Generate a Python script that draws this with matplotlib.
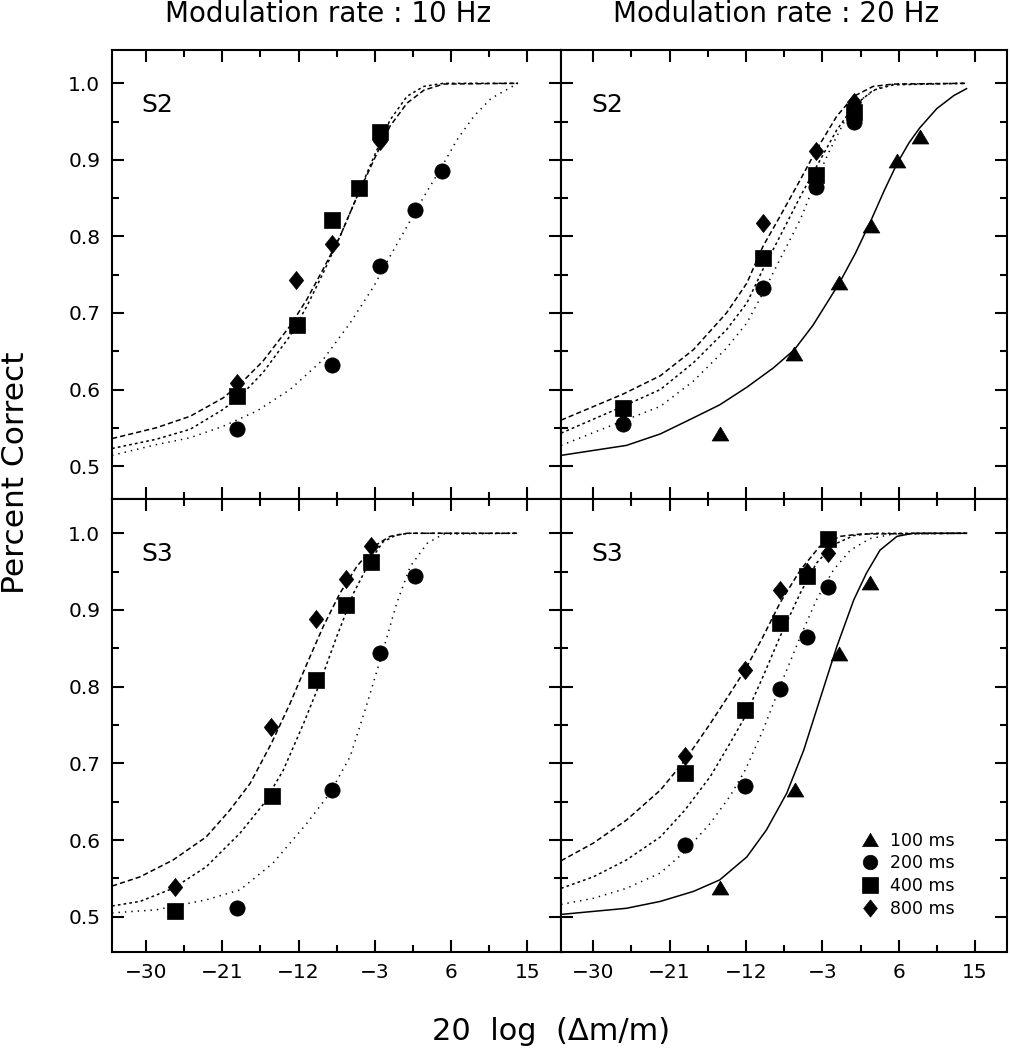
import matplotlib
matplotlib.use('Agg')
import matplotlib.pyplot as plt
from matplotlib.lines import Line2D
from matplotlib.path import Path
from matplotlib.ticker import FixedLocator, FormatStrFormatter


# axis ticks
x_ticks = [-30, -21, -12, -3, 6, 15]
x_minor = [-25.5, -16.5, -7.5, 1.5, 10.5]
y_ticks = [0.5, 0.6, 0.7, 0.8, 0.9, 1.0]
y_minor = [0.55, 0.65, 0.75, 0.85, 0.95]
durations = [100, 200, 400, 800]
duration_labels = ['100 ms', '200 ms', '400 ms', '800 ms']
col_titles = ['Modulation rate : 10 Hz', 'Modulation rate : 20 Hz']

# ---- S2, 10 Hz: measured points
s2_10_x_200 = [-19.2, -8.0, -2.4, 1.7, 4.9]
s2_10_pc_200 = [0.549, 0.632, 0.762, 0.834, 0.885]
s2_10_x_400 = [-19.3, -12.2, -8.1, -4.9, -2.4]
s2_10_pc_400 = [0.591, 0.684, 0.822, 0.863, 0.936]
s2_10_x_800 = [-19.3, -12.3, -8.1, -2.4]
s2_10_pc_800 = [0.609, 0.743, 0.790, 0.924]
# fitted curves
s2_10_fx_200 = [-34.0, -28.8, -24.8, -20.9, -16.9, -13.0, -9.1, -5.9, -3.1, -1.2, 0.8, 2.8, 4.7, 6.7, 8.7, 10.7, 13.9]
s2_10_fy_200 = [0.514, 0.528, 0.537, 0.552, 0.572, 0.600, 0.639, 0.687, 0.735, 0.774, 0.813, 0.852, 0.887, 0.926, 0.957, 0.980, 1.0]
s2_10_fx_400 = [-34.0, -28.8, -24.8, -20.9, -18.9, -16.2, -13.0, -11.0, -9.1, -7.1, -5.1, -3.1, -1.2, 0.8, 2.8, 5.1, 13.9]
s2_10_fy_400 = [0.523, 0.535, 0.548, 0.574, 0.591, 0.622, 0.670, 0.709, 0.752, 0.800, 0.852, 0.904, 0.952, 0.983, 0.996, 1.0, 1.0]
s2_10_fx_800 = [-34.0, -28.8, -24.8, -20.9, -18.9, -16.2, -13.0, -11.0, -9.1, -7.1, -5.1, -3.1, -1.2, 0.8, 2.8, 5.1, 13.9]
s2_10_fy_800 = [0.536, 0.550, 0.565, 0.589, 0.607, 0.637, 0.683, 0.718, 0.757, 0.800, 0.852, 0.900, 0.944, 0.974, 0.991, 0.999, 1.0]

# ---- S2, 20 Hz
s2_20_x_100 = [-15.1, -6.3, -1.0, 2.7, 5.8, 8.5]
s2_20_pc_100 = [0.542, 0.647, 0.739, 0.814, 0.898, 0.930]
s2_20_x_200 = [-26.5, -10.0, -3.7, 0.7]
s2_20_pc_200 = [0.555, 0.733, 0.865, 0.950]
s2_20_x_400 = [-26.5, -10.0, -3.7, 0.7]
s2_20_pc_400 = [0.576, 0.772, 0.880, 0.963]
s2_20_x_800 = [-26.5, -10.0, -3.7, 0.7]
s2_20_pc_800 = [0.572, 0.817, 0.911, 0.976]
s2_20_fx_100 = [-33.8, -26.1, -22.1, -18.2, -15.1, -11.9, -8.8, -6.3, -4.1, -1.0, 0.9, 2.7, 4.3, 5.8, 7.2, 8.5, 10.5, 12.5, 14.0]
s2_20_fy_100 = [0.514, 0.527, 0.542, 0.563, 0.580, 0.603, 0.628, 0.652, 0.684, 0.739, 0.778, 0.820, 0.860, 0.895, 0.922, 0.942, 0.967, 0.984, 0.993]
s2_20_fx_200 = [-33.8, -26.5, -22.1, -18.2, -14.3, -11.9, -10.0, -8.0, -5.6, -3.7, -2.1, -0.5, 1.5, 3.4, 5.4, 14.0]
s2_20_fy_200 = [0.527, 0.559, 0.578, 0.611, 0.654, 0.687, 0.726, 0.770, 0.822, 0.874, 0.913, 0.948, 0.978, 0.993, 0.999, 1.0]
s2_20_fx_400 = [-33.8, -26.5, -22.1, -18.2, -14.3, -11.9, -10.0, -8.0, -5.6, -3.7, -1.3, 0.7, 3.0, 5.4, 14.0]
s2_20_fy_400 = [0.543, 0.578, 0.600, 0.635, 0.678, 0.713, 0.757, 0.800, 0.852, 0.891, 0.939, 0.970, 0.991, 0.998, 1.0]
s2_20_fx_800 = [-33.8, -26.5, -22.1, -18.2, -14.3, -11.9, -10.0, -8.0, -5.6, -3.7, -1.3, 0.7, 3.0, 5.4, 14.0]
s2_20_fy_800 = [0.560, 0.594, 0.618, 0.652, 0.700, 0.739, 0.787, 0.826, 0.874, 0.913, 0.957, 0.983, 0.996, 0.999, 1.0]

# ---- S3, 10 Hz
s3_10_x_200 = [-19.2, -8.0, -2.4, 1.8]
s3_10_pc_200 = [0.511, 0.665, 0.844, 0.944]
s3_10_x_400 = [-26.6, -15.1, -9.9, -6.4, -3.5]
s3_10_pc_400 = [0.508, 0.657, 0.809, 0.907, 0.963]
s3_10_x_800 = [-26.6, -15.2, -9.9, -6.4, -3.5]
s3_10_pc_800 = [0.539, 0.748, 0.888, 0.940, 0.983]
s3_10_fx_200 = [-34.0, -28.8, -22.9, -18.9, -15.0, -11.0, -8.3, -5.9, -3.9, -2.0, -0.4, 1.2, 3.2, 5.1, 13.9]
s3_10_fy_200 = [0.505, 0.509, 0.522, 0.535, 0.570, 0.622, 0.661, 0.709, 0.778, 0.848, 0.909, 0.957, 0.987, 0.999, 1.0]
s3_10_fx_400 = [-34.0, -30.7, -26.8, -22.9, -18.9, -16.2, -13.8, -11.4, -9.5, -7.5, -5.5, -3.5, -2.0, -0.4, 1.2, 13.9]
s3_10_fy_400 = [0.514, 0.520, 0.537, 0.565, 0.609, 0.646, 0.691, 0.752, 0.804, 0.865, 0.922, 0.965, 0.989, 0.998, 1.0, 1.0]
s3_10_fx_800 = [-34.0, -30.7, -26.8, -22.9, -20.1, -17.7, -15.2, -13.0, -11.0, -9.1, -7.1, -5.1, -3.1, -1.2, 0.8, 13.9]
s3_10_fy_800 = [0.540, 0.552, 0.574, 0.604, 0.639, 0.674, 0.726, 0.778, 0.830, 0.878, 0.922, 0.957, 0.983, 0.996, 1.0, 1.0]

# ---- S3, 20 Hz
s3_20_x_100 = [-15.1, -6.2, -1.0, 2.6]
s3_20_pc_100 = [0.537, 0.665, 0.843, 0.935]
s3_20_x_200 = [-19.2, -12.1, -8.0, -4.8, -2.3]
s3_20_pc_200 = [0.593, 0.670, 0.797, 0.865, 0.930]
s3_20_x_400 = [-19.2, -12.1, -8.0, -4.8, -2.3]
s3_20_pc_400 = [0.687, 0.769, 0.883, 0.944, 0.993]
s3_20_x_800 = [-19.2, -12.1, -8.0, -4.8, -2.3]
s3_20_pc_800 = [0.709, 0.822, 0.926, 0.950, 0.974]
s3_20_fx_100 = [-33.8, -26.1, -22.1, -18.2, -15.1, -11.9, -9.6, -7.2, -5.2, -3.3, -1.3, 0.7, 2.2, 3.8, 5.8, 7.7, 14.0]
s3_20_fy_100 = [0.503, 0.511, 0.520, 0.533, 0.548, 0.578, 0.613, 0.661, 0.717, 0.783, 0.852, 0.913, 0.948, 0.978, 0.996, 1.0, 1.0]
s3_20_fx_200 = [-33.8, -30.0, -26.1, -22.1, -19.2, -16.2, -13.9, -12.1, -10.0, -8.0, -5.6, -3.7, -1.7, 0.3, 2.6, 5.4, 14.0]
s3_20_fy_200 = [0.516, 0.524, 0.537, 0.557, 0.585, 0.622, 0.657, 0.691, 0.743, 0.800, 0.865, 0.913, 0.952, 0.978, 0.993, 0.999, 1.0]
s3_20_fx_400 = [-33.8, -30.0, -26.1, -22.1, -19.2, -16.2, -13.9, -12.1, -10.0, -8.0, -5.6, -3.7, -1.7, 0.7, 3.0, 14.0]
s3_20_fy_400 = [0.537, 0.552, 0.574, 0.604, 0.639, 0.683, 0.726, 0.761, 0.813, 0.865, 0.922, 0.961, 0.985, 0.997, 1.0, 1.0]
s3_20_fx_800 = [-33.8, -30.0, -26.1, -22.1, -19.2, -16.2, -13.9, -12.1, -10.0, -8.0, -5.6, -3.3, -0.9, 1.5, 14.0]
s3_20_fy_800 = [0.573, 0.596, 0.626, 0.665, 0.704, 0.752, 0.791, 0.822, 0.865, 0.909, 0.952, 0.983, 0.996, 0.999, 1.0]


TRIANGLE = Path([(0, 0.9), (-1, -0.78), (1, -0.78), (0, 0.9)])
DIAMOND = Path([(0, 1), (0.8, 0), (0, -1), (-0.8, 0), (0, 1)])

marker_of = {100: TRIANGLE, 200: 'o', 400: 's', 800: DIAMOND}
msize_of = {100: 12, 200: 11, 400: 11.5, 800: 13}
ls_of = {100: '-', 200: (0, (0.9, 3.3)), 400: (0, (1.8, 2.0)), 800: (0, (3.4, 2.0))}


def draw_panel(ax, label, points, curves):
    for d, (fx, fy) in curves.items():
        ax.plot(fx, fy, color='black', lw=1.1, ls=ls_of[d], zorder=2)
    for d, (x, pc) in points.items():
        ax.plot(x, pc, ls='none', marker=marker_of[d], ms=msize_of[d],
                mfc='black', mec='black', mew=0.5, zorder=3)
    ax.text(0.067, 0.862, label, transform=ax.transAxes, fontsize=18,
            ha='left', va='baseline')


fig = plt.figure(figsize=(10.1, 10.5), dpi=100)

# [left, bottom, width, height] from the reference frame edges
left_x, left_w = 111.5 / 1010, 449.5 / 1010
right_x, right_w = 561 / 1010, 446 / 1010
top_y, top_h = 1 - 499 / 1050, 449 / 1050
bot_y, bot_h = 1 - 951.7 / 1050, 452.7 / 1050

ax_tl = fig.add_axes([left_x, top_y, left_w, top_h])
ax_tr = fig.add_axes([right_x, top_y, right_w, top_h])
ax_bl = fig.add_axes([left_x, bot_y, left_w, bot_h])
ax_br = fig.add_axes([right_x, bot_y, right_w, bot_h])

draw_panel(ax_tl, 'S2',
           {200: (s2_10_x_200, s2_10_pc_200), 400: (s2_10_x_400, s2_10_pc_400),
            800: (s2_10_x_800, s2_10_pc_800)},
           {200: (s2_10_fx_200, s2_10_fy_200), 400: (s2_10_fx_400, s2_10_fy_400),
            800: (s2_10_fx_800, s2_10_fy_800)})
draw_panel(ax_tr, 'S2',
           {100: (s2_20_x_100, s2_20_pc_100), 200: (s2_20_x_200, s2_20_pc_200),
            400: (s2_20_x_400, s2_20_pc_400), 800: (s2_20_x_800, s2_20_pc_800)},
           {100: (s2_20_fx_100, s2_20_fy_100), 200: (s2_20_fx_200, s2_20_fy_200),
            400: (s2_20_fx_400, s2_20_fy_400), 800: (s2_20_fx_800, s2_20_fy_800)})
draw_panel(ax_bl, 'S3',
           {200: (s3_10_x_200, s3_10_pc_200), 400: (s3_10_x_400, s3_10_pc_400),
            800: (s3_10_x_800, s3_10_pc_800)},
           {200: (s3_10_fx_200, s3_10_fy_200), 400: (s3_10_fx_400, s3_10_fy_400),
            800: (s3_10_fx_800, s3_10_fy_800)})
draw_panel(ax_br, 'S3',
           {100: (s3_20_x_100, s3_20_pc_100), 200: (s3_20_x_200, s3_20_pc_200),
            400: (s3_20_x_400, s3_20_pc_400), 800: (s3_20_x_800, s3_20_pc_800)},
           {100: (s3_20_fx_100, s3_20_fy_100), 200: (s3_20_fx_200, s3_20_fy_200),
            400: (s3_20_fx_400, s3_20_fy_400), 800: (s3_20_fx_800, s3_20_fy_800)})

for ax in [ax_tl, ax_tr, ax_bl, ax_br]:
    ax.xaxis.set_major_locator(FixedLocator(x_ticks))
    ax.xaxis.set_minor_locator(FixedLocator(x_minor))
    ax.yaxis.set_major_locator(FixedLocator(y_ticks))
    ax.yaxis.set_minor_locator(FixedLocator(y_minor))
    ax.yaxis.set_major_formatter(FormatStrFormatter('%.1f'))
    ax.tick_params(which='both', direction='in', top=True, right=True,
                   width=1.5, labelsize=14.5, pad=8)
    ax.tick_params(which='major', length=8.5)
    ax.tick_params(which='minor', length=5)
    for sp in ax.spines.values():
        sp.set_linewidth(1.5)

ax_tl.set_xlim(-34.07, 18.98)
ax_bl.set_xlim(-34.07, 18.98)
ax_tr.set_xlim(-33.81, 18.77)
ax_br.set_xlim(-33.81, 18.77)
ax_tl.set_ylim(0.457, 1.0435)
ax_tr.set_ylim(0.457, 1.0435)
ax_bl.set_ylim(0.4544, 1.0447)
ax_br.set_ylim(0.4544, 1.0447)

ax_tl.tick_params(labelbottom=False)
ax_tr.tick_params(labelbottom=False, labelleft=False)
ax_br.tick_params(labelleft=False)

handles = [Line2D([], [], ls='none', marker=marker_of[d], ms=msize_of[d] * 0.95,
                  mfc='black', mec='black', mew=0.5) for d in durations]
ax_br.legend(handles, duration_labels, loc='upper left', bbox_to_anchor=(0.673, 0.265),
             frameon=False, fontsize=12.5, handlelength=1.0, handletextpad=0.65,
             labelspacing=0.27, borderpad=0, borderaxespad=0)

fig.text(328 / 1010, 1 - 22 / 1050, col_titles[0], fontsize=20, ha='center', va='baseline')
fig.text(776 / 1010, 1 - 22 / 1050, col_titles[1], fontsize=20, ha='center', va='baseline')
fig.text(16 / 1010, 1 - 473 / 1050, 'Percent Correct', fontsize=22.5, rotation=90,
         ha='center', va='center')
fig.text(551 / 1010, 1 - 1040 / 1050, '20  log  (\u0394m/m)', fontsize=22,
         ha='center', va='baseline')

fig.savefig('out.png', dpi=100)
